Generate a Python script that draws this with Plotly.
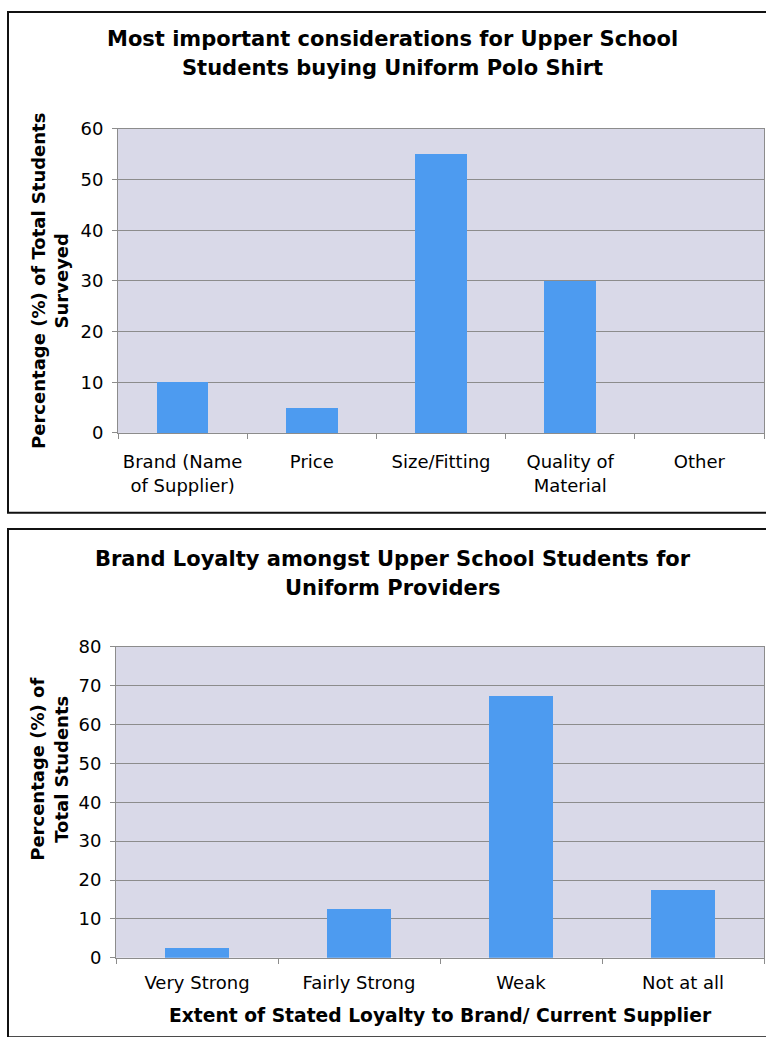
import plotly.graph_objects as go

# ---- data ----
top_categories = ["Brand (Name<br>of Supplier)", "Price", "Size/Fitting", "Quality of<br>Material", "Other"]
top_values = [10, 5, 55, 30, 0]
top_ticks = [0, 10, 20, 30, 40, 50, 60]

bottom_categories = ["Very Strong", "Fairly Strong", "Weak", "Not at all"]
bottom_values = [2.5, 12.5, 67.5, 17.5]
bottom_ticks = [0, 10, 20, 30, 40, 50, 60, 70, 80]

top_title_lines = ["Most important considerations for Upper School",
                   "Students buying Uniform Polo Shirt"]
top_ytitle = "Percentage (%) of Total Students<br>Surveyed"
bottom_title_lines = ["Brand Loyalty amongst Upper School Students for",
                      "Uniform Providers"]
bottom_ytitle = "Percentage (%) of<br>Total Students"
bottom_xtitle = "Extent of Stated Loyalty to Brand/ Current Supplier"

# ---- style ----
W, H = 766, 1037
FONT = "DejaVu Sans"
BAR = "#4D9BF0"
BG = "#D9D9E8"
GRID = "#8C8C8C"


def py(px):
    return 1 - px / H


def pxx(px):
    return px / W


def bold(s):
    return "<br>".join("<b>" + part + "</b>" for part in s.split("<br>"))


fig = go.Figure()
fig.add_trace(go.Bar(x=top_categories, y=top_values, width=0.4,
                     marker=dict(color=BAR, line=dict(width=0)),
                     xaxis="x", yaxis="y", showlegend=False))
fig.add_trace(go.Bar(x=bottom_categories, y=bottom_values, width=0.4,
                     marker=dict(color=BAR, line=dict(width=0)),
                     xaxis="x2", yaxis="y2", showlegend=False))

common_x = dict(type="category", showgrid=False, showline=True, mirror=True,
                linecolor=GRID, linewidth=1, ticks="outside", tickson="boundaries",
                ticklen=5, tickcolor=GRID, tickfont=dict(family=FONT, size=18, color="#000"),
                fixedrange=True)
common_y = dict(showgrid=True, gridcolor=GRID, gridwidth=1, showline=True, mirror=True,
                linecolor=GRID, linewidth=1, ticks="outside", ticklen=5, tickcolor=GRID,
                zeroline=False, tickfont=dict(family=FONT, size=18, color="#000"),
                ticklabelstandoff=5, fixedrange=True)

title_font = dict(family=FONT, size=21, color="#000")
axis_font = dict(family=FONT, size=18, color="#000")

annotations = []
for text, ypx in zip(top_title_lines, [28.6, 58.2]):
    annotations.append(dict(text=bold(text), xref="paper", yref="paper",
                            x=pxx(393), y=py(ypx), xanchor="center", yanchor="middle",
                            showarrow=False, font=title_font))
for text, ypx in zip(bottom_title_lines, [559.2, 588.8]):
    annotations.append(dict(text=bold(text), xref="paper", yref="paper",
                            x=pxx(393), y=py(ypx), xanchor="center", yanchor="middle",
                            showarrow=False, font=title_font))
annotations += [
    dict(text=bold(top_ytitle), xref="paper", yref="paper", x=pxx(50), y=py(275.5),
         textangle=-90, xanchor="center", yanchor="middle", showarrow=False, font=axis_font),
    dict(text=bold(bottom_ytitle), xref="paper", yref="paper", x=pxx(49), y=py(774.5),
         textangle=-90, xanchor="center", yanchor="middle", showarrow=False, font=axis_font),
    dict(text=bold(bottom_xtitle), xref="paper", yref="paper", x=pxx(440), y=py(1025.5),
         xanchor="center", yanchor="middle", showarrow=False,
         font=dict(family=FONT, size=18.7, color="#000")),
]

fig.update_layout(
    width=W, height=H,
    margin=dict(l=0, r=0, t=0, b=0),
    paper_bgcolor="white", plot_bgcolor=BG,
    bargap=0,
    xaxis=dict(common_x, domain=[pxx(118), pxx(764)], anchor="y", ticklabelstandoff=13),
    yaxis=dict(common_y, domain=[py(430.6), py(120.4)], anchor="x", range=[0, 60],
               tickvals=top_ticks),
    xaxis2=dict(common_x, domain=[pxx(116), pxx(764)], anchor="y2", ticklabelstandoff=9),
    yaxis2=dict(common_y, domain=[py(966.3), py(649)], anchor="x2", range=[0, 80],
                tickvals=bottom_ticks),
    shapes=[
        dict(type="rect", xref="paper", yref="paper", x0=pxx(8), x1=1.01,
             y0=py(512.2), y1=py(1), line=dict(color="#111", width=2)),
        dict(type="rect", xref="paper", yref="paper", x0=pxx(8), x1=1.01,
             y0=-0.01, y1=py(528.6), line=dict(color="#111", width=2)),
    ],
    annotations=annotations,
)

fig.write_html("out.html", config={"displayModeBar": False},
               post_script="document.body.style.margin='0';document.body.style.overflow='hidden';")
